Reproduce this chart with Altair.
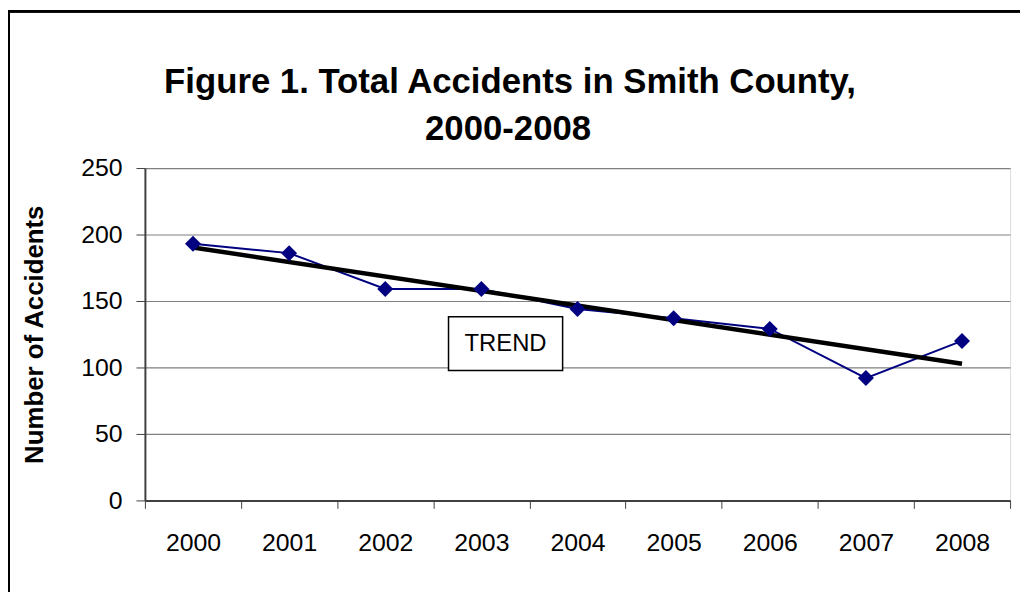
import altair as alt
import pandas as pd

years = [2000, 2001, 2002, 2003, 2004, 2005, 2006, 2007, 2008]
accidents = [193, 186, 159, 159, 144, 137, 129, 92, 120]
y_ticks = [0, 50, 100, 150, 200, 250]
title_lines = ["Figure 1. Total Accidents in Smith County,", "2000-2008"]
y_title = "Number of Accidents"
note_text = ["TREND"]

df = pd.DataFrame({"year": years, "value": accidents})
note_df = pd.DataFrame({"label": note_text})
title_df = pd.DataFrame({"line": title_lines, "row": [0, 1]})

FONT = "Liberation Sans"

x_enc = alt.X(
    "year:O",
    scale=alt.Scale(type="band", paddingInner=0, paddingOuter=0),
    bandPosition=0.5,
    axis=alt.Axis(
        title=None, labelAngle=0, tickBand="extent", grid=False,
        labelFont=FONT, labelFontSize=25, labelColor="black",
        labelPadding=22, tickSize=8, tickColor="#404040",
        domainColor="#404040", domainWidth=2,
    ),
)
y_enc = alt.Y(
    "value:Q",
    scale=alt.Scale(domain=[0, 250], nice=False),
    axis=alt.Axis(
        title=y_title, values=y_ticks, grid=True, gridColor="#808080",
        gridWidth=1.2, labelFont=FONT, labelFontSize=25, labelColor="black",
        labelPadding=14, tickSize=9, tickColor="#404040",
        domainColor="#404040", domainWidth=2,
        titleFont=FONT, titleFontSize=26, titleFontWeight="bold",
        titleColor="black", titleX=-111, titleBaseline="middle",
    ),
)

base = alt.Chart(df)

frame = base.mark_rect(fill="transparent", stroke="black", strokeWidth=2).encode(
    x=alt.value(-137), x2=alt.value(1020), y=alt.value(-158), y2=alt.value(600)
)

line = base.mark_line(color="#000080", strokeWidth=2).encode(x=x_enc, y=y_enc)
pts = base.mark_point(shape="diamond", filled=True, color="#000080", size=260, opacity=1).encode(
    x=x_enc, y=y_enc
)
trend = base.transform_regression("year", "value", method="linear").mark_line(
    color="black", strokeWidth=4.5
).encode(x=x_enc, y=y_enc)

box = alt.Chart(note_df).mark_rect(fill="white", stroke="black", strokeWidth=1.5).encode(
    x=alt.value(306), x2=alt.value(421), y=alt.value(150), y2=alt.value(204)
)
label = alt.Chart(note_df).mark_text(
    font=FONT, fontSize=24, color="black", align="center", baseline="middle"
).encode(x=alt.value(363.5), y=alt.value(177.5), text="label:N")

title1 = alt.Chart(title_df).transform_filter("datum.row == 0").mark_text(
    font=FONT, fontSize=35, fontWeight="bold", color="black",
    align="center", baseline="alphabetic",
).encode(x=alt.value(368), y=alt.value(-76), text="line:N")
title2 = alt.Chart(title_df).transform_filter("datum.row == 1").mark_text(
    font=FONT, fontSize=35, fontWeight="bold", color="black",
    align="center", baseline="alphabetic",
).encode(x=alt.value(366), y=alt.value(-28), text="line:N")

chart = alt.layer(frame, line, trend, pts, box, label, title1, title2).properties(
    width=872,
    height=335,
    autosize=alt.AutoSizeParams(type="none"),
    padding={"left": 138, "top": 159, "right": 10, "bottom": 90},
).configure_view(stroke="#808080", strokeWidth=1.5).configure(background="white")

chart.save("out.html", embed_options={"renderer": "svg", "actions": False})
